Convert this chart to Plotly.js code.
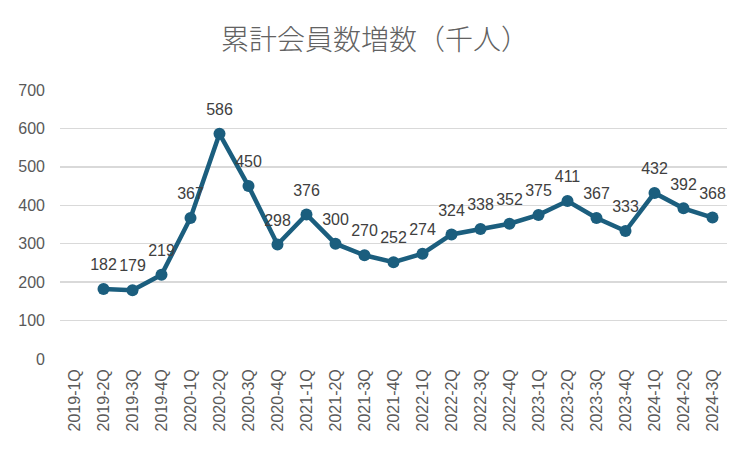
<!DOCTYPE html>
<html>
<head>
<meta charset="utf-8">
<script src="https://cdn.plot.ly/plotly-3.0.1.min.js"></script>
<style>html,body{margin:0;padding:0;background:#fff;}#chart{width:750px;height:450px;}</style>
</head>
<body>
<div id="chart"></div>
<script>
const categories = ["2019-1Q","2019-2Q","2019-3Q","2019-4Q","2020-1Q","2020-2Q","2020-3Q","2020-4Q","2021-1Q","2021-2Q","2021-3Q","2021-4Q","2022-1Q","2022-2Q","2022-3Q","2022-4Q","2023-1Q","2023-2Q","2023-3Q","2023-4Q","2024-1Q","2024-2Q","2024-3Q"];
const memberIncrease = [null,182,179,219,367,586,450,298,376,300,270,252,274,324,338,352,375,411,367,333,432,392,368];
const yTicks = [0,100,200,300,400,500,600,700];

const lineTrace = {
  x: categories,
  y: memberIncrease,
  type: 'scatter',
  mode: 'lines+markers',
  line: {color: '#1B5E7E', width: 4.5},
  marker: {color: '#1B5E7E', size: 12},
  cliponaxis: false,
  hoverinfo: 'x+y'
};

const labelTrace = {
  x: categories,
  y: memberIncrease,
  type: 'scatter',
  mode: 'markers+text',
  text: memberIncrease.map(v => v === null ? '' : String(v)),
  textposition: 'top center',
  textfont: {family: 'Liberation Sans, Arial, sans-serif', size: 16, color: '#404040'},
  marker: {size: 22, opacity: 0},
  cliponaxis: false,
  hoverinfo: 'skip'
};

const layout = {
  width: 750, height: 450,
  margin: {l: 60, r: 23, t: 90, b: 91, autoexpand: false},
  paper_bgcolor: '#fff', plot_bgcolor: '#fff',
  showlegend: false,
  title: {
    text: '累計会員数増数（千人）',
    font: {family: 'Noto Sans CJK JP, sans-serif', size: 28, color: '#626262', weight: 300},
    x: 0.5, xanchor: 'center', y: 0.911, yanchor: 'middle'
  },
  xaxis: {
    type: 'category',
    range: [-0.5, categories.length - 0.5],
    automargin: false,
    tickangle: -90,
    tickfont: {family: 'Liberation Sans, Arial, sans-serif', size: 16, color: '#595959'},
    showgrid: false, showline: false, zeroline: false,
    ticks: '', ticklen: 0,
    ticklabelstandoff: 6
  },
  yaxis: {
    range: [0, 700],
    automargin: false,
    tickvals: yTicks,
    ticktext: yTicks.map(String),
    tickfont: {family: 'Liberation Sans, Arial, sans-serif', size: 16, color: '#595959'},
    showgrid: true, gridcolor: '#d9d9d9', gridwidth: 1.5,
    zeroline: false, showline: false, ticks: '',
    ticklabelstandoff: 14
  }
};

Plotly.newPlot('chart', [lineTrace, labelTrace], layout, {displayModeBar: false, staticPlot: true});
</script>
</body>
</html>
